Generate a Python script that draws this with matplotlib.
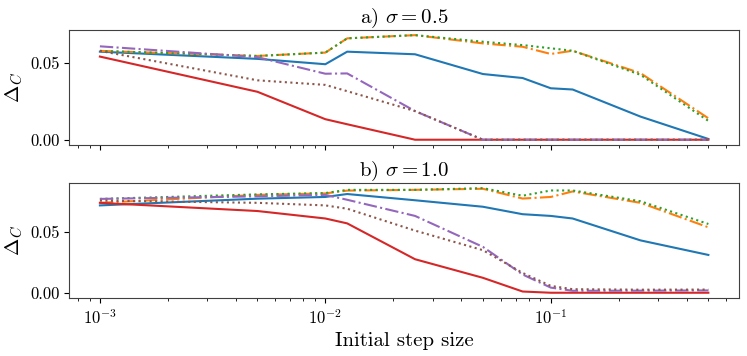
import matplotlib
matplotlib.use("Agg")
import matplotlib.pyplot as plt

plt.rcParams["mathtext.fontset"] = "cm"
plt.rcParams["font.family"] = "serif"
plt.rcParams["font.serif"] = ["cmr10"]
plt.rcParams["axes.formatter.use_mathtext"] = True

# Initial step sizes (shared x values)
steps = [0.001, 0.005, 0.01, 0.0125, 0.025, 0.05, 0.075, 0.1, 0.125, 0.25, 0.5]

# a) sigma = 0.5
a_blue = [0.0575, 0.0528, 0.0493, 0.0575, 0.0558, 0.0429, 0.0403, 0.0336, 0.0328, 0.0151, 0.0005]
a_orange = [0.058, 0.0547, 0.0569, 0.0662, 0.0683, 0.0629, 0.0607, 0.0560, 0.0581, 0.0435, 0.0140]
a_green = [0.058, 0.0547, 0.0569, 0.0662, 0.0683, 0.0640, 0.0618, 0.0597, 0.0581, 0.0424, 0.0123]
a_red = [0.0543, 0.0313, 0.0134, 0.0101, 0.0, 0.0, 0.0, 0.0, 0.0, 0.0, 0.0]
a_purple = [0.0610, 0.0539, 0.0431, 0.0433, 0.0187, 0.0, 0.0, 0.0, 0.0, 0.0, 0.0]
a_brown = [0.0580, 0.0388, 0.0358, 0.0317, 0.0187, 0.0, 0.0, 0.0, 0.0, 0.0, 0.0]

# b) sigma = 1.0
b_blue = [0.0714, 0.0769, 0.0783, 0.0807, 0.0756, 0.0703, 0.0642, 0.0628, 0.0607, 0.0428, 0.0309]
b_orange = [0.0735, 0.0800, 0.0812, 0.0835, 0.0841, 0.0850, 0.0770, 0.0783, 0.0828, 0.0735, 0.0535]
b_green = [0.0767, 0.0804, 0.0815, 0.0841, 0.0841, 0.0855, 0.0793, 0.0836, 0.0836, 0.0748, 0.0562]
b_red = [0.0735, 0.0668, 0.0607, 0.0567, 0.0274, 0.0122, 0.001, 0.0, 0.0, 0.0, 0.0]
b_purple = [0.0767, 0.0788, 0.0800, 0.0760, 0.0628, 0.0375, 0.0149, 0.0042, 0.0016, 0.0017, 0.0019]
b_brown = [0.0753, 0.0735, 0.0714, 0.0687, 0.0508, 0.0348, 0.0162, 0.0056, 0.0029, 0.0025, 0.0026]

panels = [
    ("a) $\\sigma = 0.5$", [a_blue, a_orange, a_green, a_red, a_purple, a_brown]),
    ("b) $\\sigma = 1.0$", [b_blue, b_orange, b_green, b_red, b_purple, b_brown]),
]
colors = ["C0", "C1", "C2", "C3", "C4", "C5"]
styles = ["-", "-.", ":", "-", "-.", ":"]

fig, axes = plt.subplots(2, 1, sharex=True, figsize=(7.47, 3.56), dpi=100)
fig.subplots_adjust(left=0.093, right=0.989, top=0.916, bottom=0.163, hspace=0.33)

for ax, (title, series) in zip(axes, panels):
    for ys, c, ls in zip(series, colors, styles):
        ax.plot(steps, ys, color=c, linestyle=ls, linewidth=1.5)
    ax.set_xscale("log")
    ax.set_title(title, fontsize=15, pad=4)
    ax.set_ylabel("$\\Delta_C$", fontsize=15)
    ax.set_yticks([0.0, 0.05])
    ax.set_yticklabels(["0.00", "0.05"])
    ax.tick_params(labelsize=12)
    for sp in ax.spines.values():
        sp.set_color("0.25")

axes[1].set_xlabel("Initial step size", fontsize=15)

fig.savefig("out.png", dpi=100)
